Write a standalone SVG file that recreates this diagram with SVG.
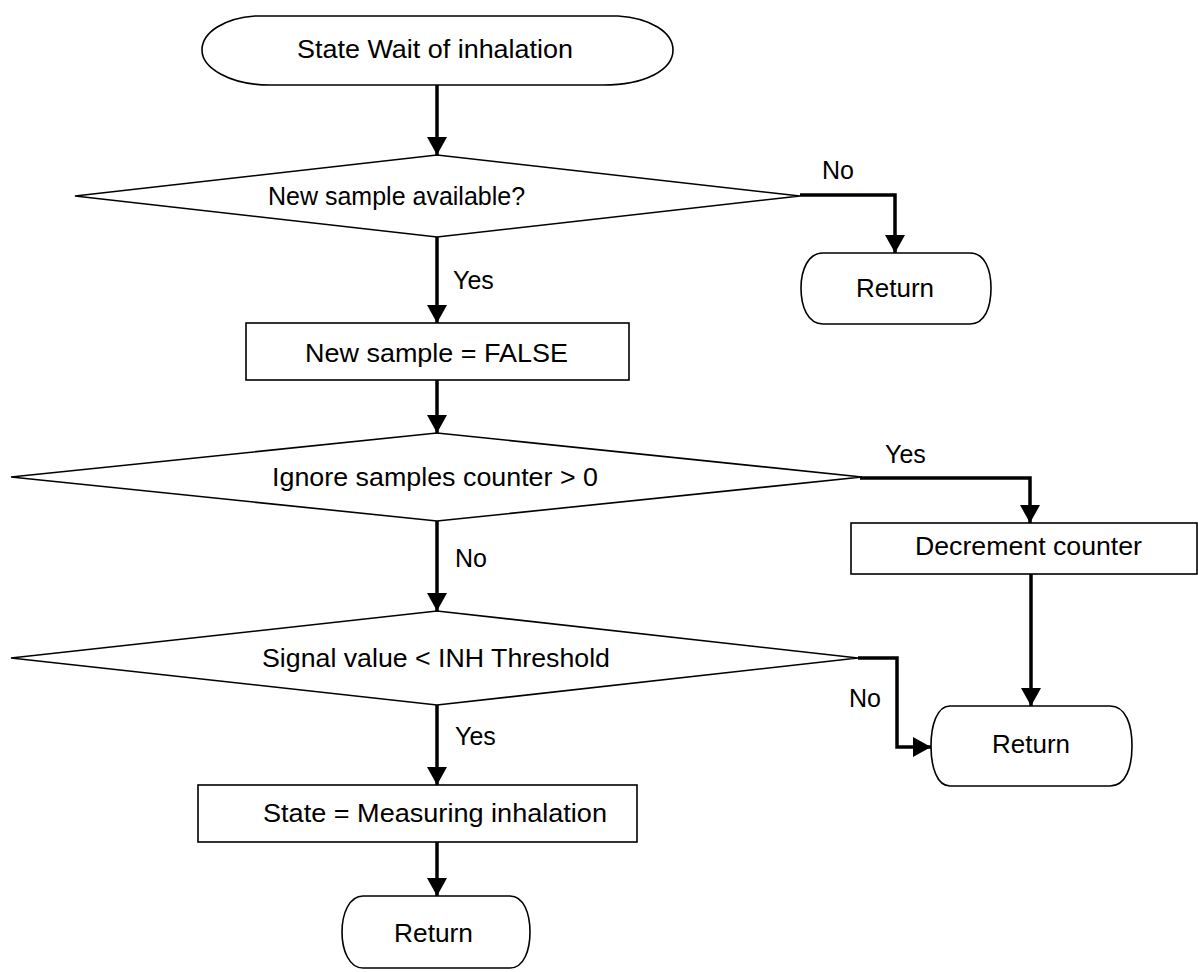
<svg xmlns="http://www.w3.org/2000/svg" width="1198" height="972" viewBox="0 0 1198 972">
<style>
.shape{fill:#fff;stroke:#000;stroke-width:1.6}
.conn{fill:none;stroke:#000;stroke-width:3.5;marker-end:url(#ah)}
text{font-family:"Liberation Sans",Arial,sans-serif;font-size:25px;fill:#000}
</style>
<defs>
<marker id="ah" markerUnits="userSpaceOnUse" markerWidth="20" markerHeight="20" refX="18" refY="10" orient="auto">
<path d="M0,0 L18,10 L0,20 Z" fill="#000"/>
</marker>
</defs>
<rect width="1198" height="972" fill="#fff"/>
<g id="connectors">
<path class="conn" d="M437,85 V155"/>
<path class="conn" d="M800,195 H895 V253"/>
<path class="conn" d="M437,237 V323"/>
<path class="conn" d="M437,380 V433"/>
<path class="conn" d="M860,478 H1030 V523"/>
<path class="conn" d="M437,521 V611"/>
<path class="conn" d="M1031,574 V706"/>
<path class="conn" d="M858,658 H897 V747 H931"/>
<path class="conn" d="M437,705 V785"/>
<path class="conn" d="M437,842 V896"/>
</g>
<g id="labels">
<text x="822" y="179">No</text>
<text x="453" y="289">Yes</text>
<text x="885" y="463">Yes</text>
<text x="455" y="567">No</text>
<text x="849" y="707">No</text>
<text x="455" y="745">Yes</text>
</g>
<g id="start">
<path class="shape" d="M255,16 H618 C650,18 673,32 673,50 C673,70 645,85 603,85 H270 C230,85 202,68 202,50 C202,32 225,18 255,16 Z"/>
<text x="297" y="58" textLength="276" lengthAdjust="spacingAndGlyphs">State Wait of inhalation</text>
</g>
<g id="d1">
<polygon class="shape" points="75,196 437,155 800,196 437,237"/>
<text x="268" y="205">New sample available?</text>
</g>
<g id="ret1">
<path class="shape" d="M823,253 H970 C985,253 991,270 991,288 C991,307 985,324 970,324 H823 C808,324 801,307 801,288 C801,270 808,253 823,253 Z"/>
<text x="856" y="297" textLength="78" lengthAdjust="spacingAndGlyphs">Return</text>
</g>
<g id="p1">
<rect class="shape" x="246" y="323" width="383" height="57"/>
<text x="305" y="362" textLength="263" lengthAdjust="spacingAndGlyphs">New sample = FALSE</text>
</g>
<g id="d2">
<polygon class="shape" points="11,477 437,433 862,477 437,521"/>
<text x="272" y="486" textLength="326" lengthAdjust="spacingAndGlyphs">Ignore samples counter &gt; 0</text>
</g>
<g id="p2">
<rect class="shape" x="851" y="523" width="346" height="51"/>
<text x="915" y="555" textLength="227" lengthAdjust="spacingAndGlyphs">Decrement counter</text>
</g>
<g id="d3">
<polygon class="shape" points="11,658 437,611 858,658 437,705"/>
<text x="262" y="667" textLength="348" lengthAdjust="spacingAndGlyphs">Signal value &lt; INH Threshold</text>
</g>
<g id="ret2">
<path class="shape" d="M950,706 H1110 C1126,706 1132,725 1132,746 C1132,767 1126,786 1110,786 H950 C937,786 931,767 931,746 C931,725 937,706 950,706 Z"/>
<text x="992" y="753" textLength="78" lengthAdjust="spacingAndGlyphs">Return</text>
</g>
<g id="p3">
<rect class="shape" x="198" y="785" width="439" height="57"/>
<text x="263" y="822" textLength="344" lengthAdjust="spacingAndGlyphs">State = Measuring inhalation</text>
</g>
<g id="ret3">
<path class="shape" d="M363,896 H510 C524,896 530,914 530,932 C530,950 524,968 510,968 H363 C349,968 342,950 342,932 C342,914 349,896 363,896 Z"/>
<text x="394" y="942" textLength="79" lengthAdjust="spacingAndGlyphs">Return</text>
</g>
</svg>
